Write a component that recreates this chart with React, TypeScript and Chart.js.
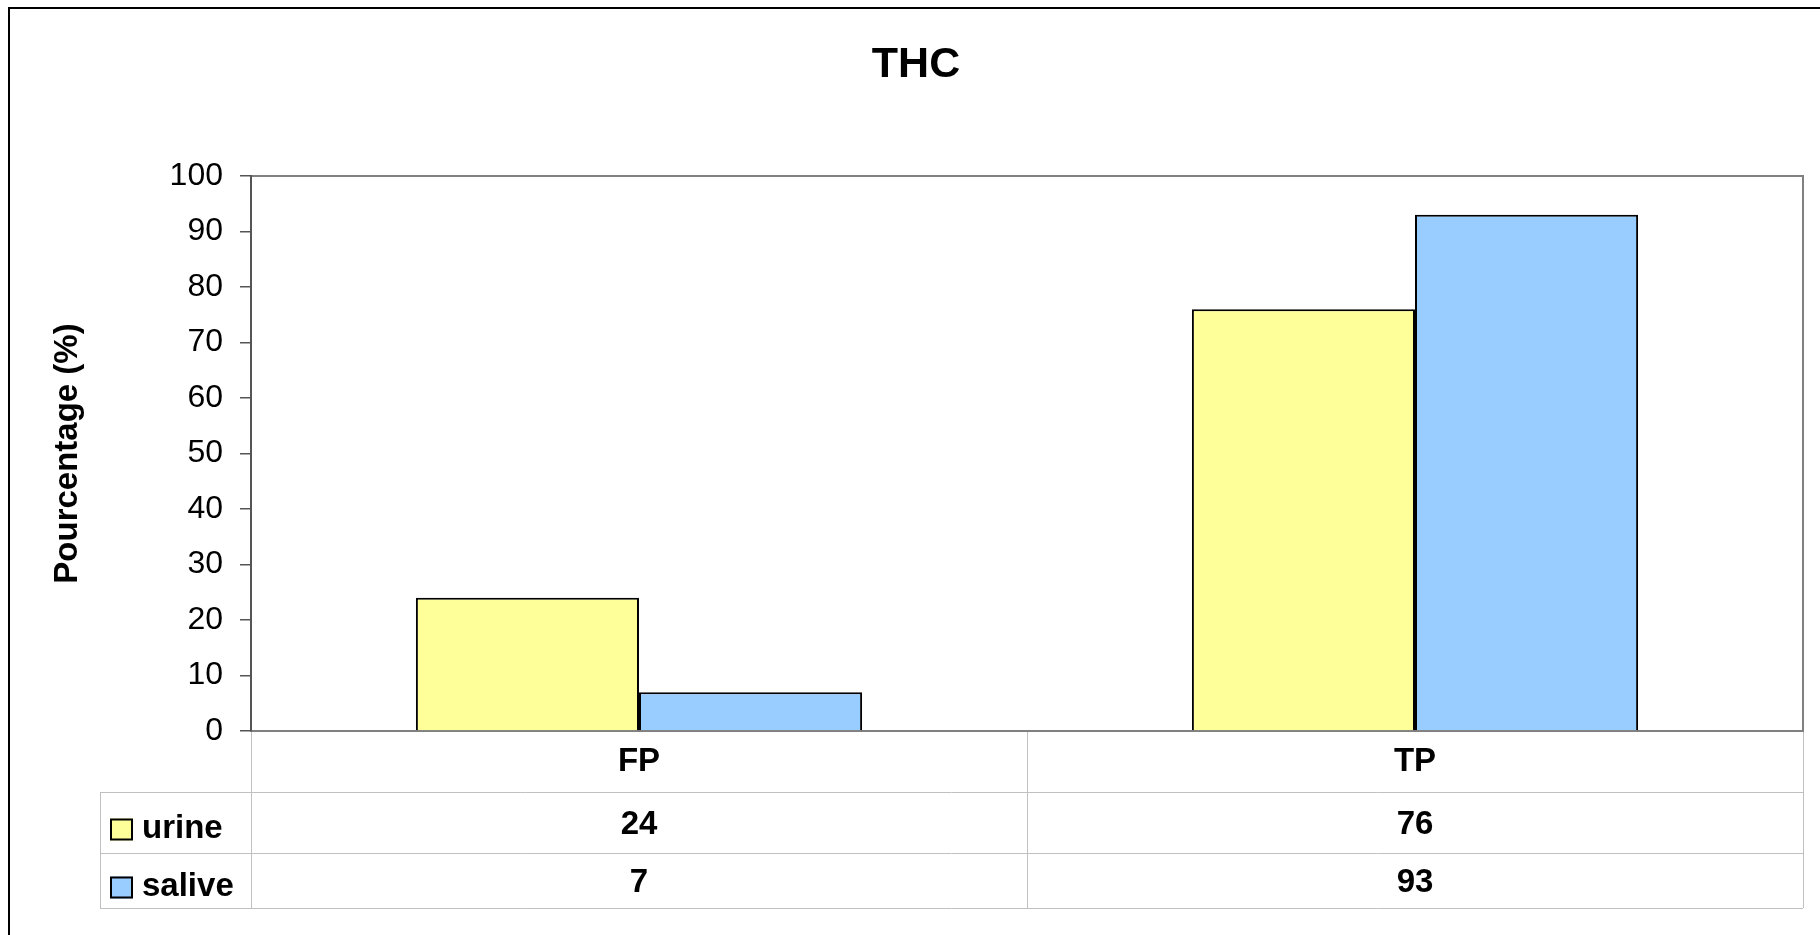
import React, { useEffect, useRef } from "react";
import { Chart, registerables } from "chart.js";

Chart.register(...registerables);

const chartTitle = "THC";
const yAxisTitle = "Pourcentage (%)";
const categories = ["FP", "TP"];
const seriesNames = ["urine", "salive"];
const urineValues = [24, 76];
const saliveValues = [7, 93];
const seriesColors = ["#FFFF99", "#99CCFF"];
const yMin = 0;
const yMax = 100;
const yStep = 10;

const FONT = "'Liberation Sans', Arial, sans-serif";

const framePlugin = {
  id: "excelFrame",
  beforeDraw(chart: any) {
    const { ctx, chartArea } = chart;
    ctx.save();
    // outer chart frame (top & left visible)
    ctx.fillStyle = "#000";
    ctx.fillRect(8, 7, chart.width - 8, 2);
    ctx.fillRect(8, 7, 2, chart.height - 7);
    // plot area frame
    ctx.strokeStyle = "#808080";
    ctx.lineWidth = 2;
    ctx.strokeRect(chartArea.left, chartArea.top, chartArea.right - chartArea.left, chartArea.bottom - chartArea.top);
    ctx.restore();
  },
};

const tablePlugin = {
  id: "dataTable",
  afterDraw(chart: any) {
    const { ctx, chartArea } = chart;
    const xs = chart.scales.x;
    const left = chartArea.left;
    const right = chartArea.right;
    const mid = (xs.getPixelForTick(0) + xs.getPixelForTick(1)) / 2;
    const top = chartArea.bottom;
    const bottom = xs.bottom;
    const r1 = top + 61;
    const r2 = top + 122;
    const legendLeft = 100;
    const rows = [
      { top: r1, bottom: r2, values: urineValues },
      { top: r2, bottom: bottom, values: saliveValues },
    ];
    ctx.save();
    ctx.strokeStyle = "#c0c0c0";
    ctx.lineWidth = 1;
    ctx.beginPath();
    [left, mid, right].forEach((x) => {
      ctx.moveTo(Math.round(x) + 0.5, top + 1);
      ctx.lineTo(Math.round(x) + 0.5, bottom);
    });
    ctx.moveTo(legendLeft + 0.5, r1);
    ctx.lineTo(legendLeft + 0.5, bottom);
    [r1, r2, bottom].forEach((y) => {
      ctx.moveTo(legendLeft, Math.round(y) + 0.5);
      ctx.lineTo(right, Math.round(y) + 0.5);
    });
    ctx.stroke();

    ctx.font = `bold 33px ${FONT}`;
    ctx.fillStyle = "#000";
    rows.forEach((row, i) => {
      const cy = (row.top + row.bottom) / 2;
      ctx.fillStyle = seriesColors[i];
      ctx.fillRect(110, cy - 4, 23, 22);
      ctx.strokeStyle = "#000";
      ctx.lineWidth = 2;
      ctx.strokeRect(111, cy - 3, 21, 20);
      ctx.fillStyle = "#000";
      ctx.textAlign = "left";
      ctx.textBaseline = "alphabetic";
      ctx.fillText(seriesNames[i], 142, cy + 15);
      ctx.textAlign = "center";
      ctx.textBaseline = "middle";
      row.values.forEach((v, j) => {
        ctx.fillText(String(Math.round(v)), xs.getPixelForTick(j), cy + 2);
      });
    });
    ctx.restore();
  },
};

export default function App() {
  const canvasRef = useRef<HTMLCanvasElement | null>(null);

  useEffect(() => {
    const canvas = canvasRef.current;
    if (!canvas) return;
    const chart = new Chart(canvas, {
      type: "bar",
      data: {
        labels: categories,
        datasets: [
          {
            label: seriesNames[0],
            data: urineValues,
            backgroundColor: seriesColors[0],
            borderColor: "#000",
            borderWidth: 2,
          },
          {
            label: seriesNames[1],
            data: saliveValues,
            backgroundColor: seriesColors[1],
            borderColor: "#000",
            borderWidth: 2,
          },
        ],
      },
      options: {
        responsive: false,
        devicePixelRatio: 1,
        animation: false,
        layout: { padding: { left: 29, right: 17, top: 0, bottom: 27 } },
        datasets: {
          bar: { categoryPercentage: 0.575, barPercentage: 1.0 },
        },
        plugins: {
          legend: { display: false },
          tooltip: { enabled: false },
          title: {
            display: true,
            text: chartTitle,
            color: "#000",
            font: { family: FONT, size: 43, weight: "bold", lineHeight: 1.2 },
            padding: { top: 39, bottom: 85.4 },
          },
        },
        scales: {
          x: {
            grid: { display: false, drawTicks: false },
            border: { display: false },
            ticks: {
              color: "#000",
              padding: 11,
              font: { family: FONT, size: 33, weight: "bold" },
            },
            afterFit(scale: any) {
              scale.height = 177;
            },
          },
          y: {
            min: yMin,
            max: yMax,
            ticks: {
              stepSize: yStep,
              color: "#000",
              padding: 17,
              font: { family: FONT, size: 32 },
            },
            grid: {
              drawOnChartArea: false,
              drawTicks: true,
              tickLength: 11,
              color: "#555",
              lineWidth: 1.5,
            },
            border: { display: true, color: "#555", width: 2 },
            title: {
              display: true,
              text: yAxisTitle,
              color: "#000",
              font: { family: FONT, size: 33, weight: "bold", lineHeight: 1.2 },
              padding: { top: 19, bottom: 0 },
            },
            afterFit(scale: any) {
              scale.width = 222;
            },
          },
        },
      },
      plugins: [framePlugin, tablePlugin],
    });
    return () => chart.destroy();
  }, []);

  return (
    <div style={{ position: "fixed", left: 0, top: 0, width: 1820, height: 935, background: "#fff", overflow: "hidden" }}>
      <canvas ref={canvasRef} width={1820} height={935} style={{ width: 1820, height: 935, display: "block" }} />
    </div>
  );
}
